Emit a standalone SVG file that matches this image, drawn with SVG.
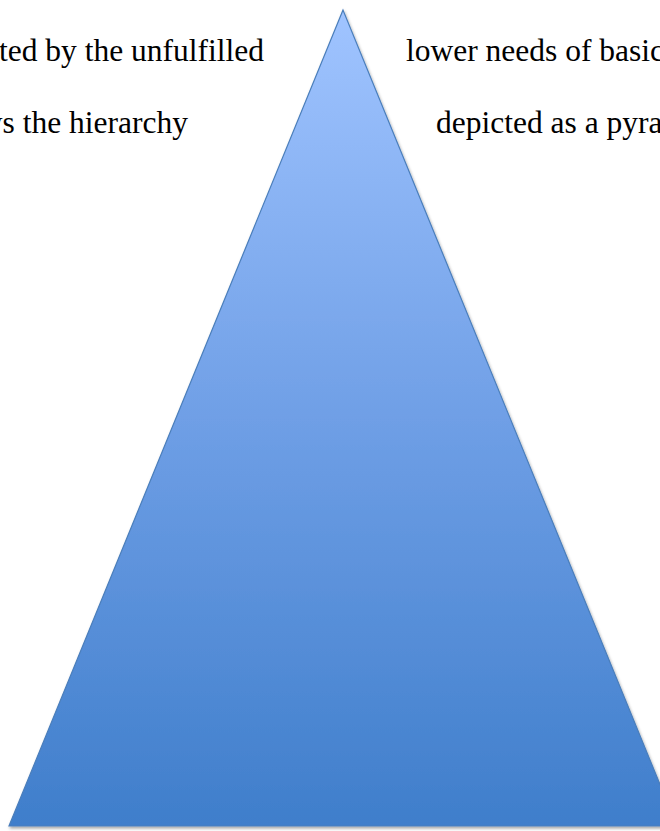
<svg xmlns="http://www.w3.org/2000/svg" width="660" height="831" viewBox="0 0 660 831">
<defs>
<linearGradient id="g" x1="0" y1="0" x2="0" y2="1">
<stop offset="0" stop-color="#a0c4ff"/>
<stop offset="0.5" stop-color="#6f9fe6"/>
<stop offset="1" stop-color="#3f7ecb"/>
</linearGradient>
<filter id="sh" x="-10%" y="-10%" width="120%" height="120%">
<feDropShadow dx="1" dy="2" stdDeviation="1.5" flood-color="#000" flood-opacity="0.35"/>
</filter>
<style>
.t{font-family:"Liberation Serif","Times New Roman",serif;font-size:31.5px;fill:#000}
</style>
</defs>
<rect width="660" height="831" fill="#fff"/>
<g id="pyramid">
<polygon points="343,10 9,826 677,826" fill="url(#g)" stroke="#4a7ebb" stroke-width="1.2" filter="url(#sh)"/>
</g>
<g id="texts">
<text class="t" x="264" y="61" text-anchor="end">ted by the unfulfilled</text>
<text class="t" x="188" y="133" text-anchor="end">ws the hierarchy</text>
<text class="t" x="406" y="61">lower needs of basic</text>
<text class="t" x="436" y="133">depicted as a pyra</text>
</g>
</svg>
